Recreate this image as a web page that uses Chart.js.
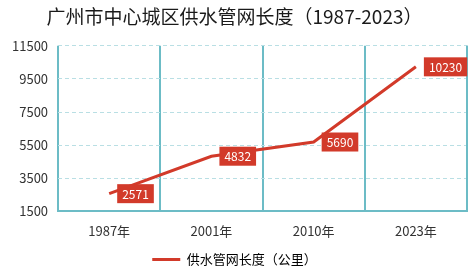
<!DOCTYPE html>
<html>
<head>
<meta charset="utf-8">
<script src="https://cdn.jsdelivr.net/npm/chart.js@4/dist/chart.umd.min.js"></script>
<style>
  html, body { margin: 0; padding: 0; background: #fff; }
  #wrap { width: 472px; height: 270px; }
</style>
</head>
<body>
<div id="wrap"><canvas id="pipeChart"></canvas></div>
<script>
var years = ["1987年", "2001年", "2010年", "2023年"];
var pipeLength = [2571, 4832, 5690, 10230];
var yTicks = [1500, 3500, 5500, 7500, 9500, 11500];

var FONT = "'Noto Sans CJK SC', 'Noto Sans', sans-serif";
var RED = "#d23a2a";
var TEAL = "#6cbcc6";

// red boxes with the value, placed just right of each point
var valueBoxes = {
  id: "valueBoxes",
  afterDatasetsDraw: function (chart) {
    var ctx = chart.ctx;
    var meta = chart.getDatasetMeta(0);
    ctx.save();
    ctx.font = "12px " + FONT;
    ctx.textBaseline = "middle";
    meta.data.forEach(function (pt, i) {
      var txt = String(pipeLength[i]);
      var w = ctx.measureText(txt).width + 10;
      var h = 19;
      var x = pt.x + 8;
      var y = pt.y - h / 2;
      ctx.fillStyle = RED;
      ctx.fillRect(x, y, w, h);
      ctx.fillStyle = "#fff";
      ctx.textAlign = "center";
      ctx.fillText(txt, x + w / 2, pt.y + 0.5);
    });
    ctx.restore();
  }
};

var ctx1 = document.getElementById("pipeChart").getContext("2d");
var myChart1 = new Chart(ctx1, {
  type: "line",
  data: {
    labels: years,
    datasets: [{
      label: "供水管网长度（公里）",
      data: pipeLength,
      borderColor: RED,
      backgroundColor: RED,
      borderWidth: 3,
      pointRadius: 0,
      tension: 0,
      fill: false
    }]
  },
  options: {
    responsive: true,
    maintainAspectRatio: false,
    animation: false,
    layout: { padding: { left: 2, right: 5, top: 0, bottom: -6 } },
    plugins: {
      title: {
        display: true,
        text: "广州市中心城区供水管网长度（1987-2023）",
        color: "#1a1a1a",
        font: { family: FONT, size: 19, weight: "normal" },
        padding: { top: 5, bottom: 18 }
      },
      legend: {
        position: "bottom",
        labels: {
          color: "#333",
          font: { family: FONT, size: 13 },
          boxWidth: 28,
          boxHeight: 3,
          padding: 2,
          generateLabels: function (chart) {
            return [{
              text: "供水管网长度（公里）",
              fillStyle: RED,
              strokeStyle: RED,
              lineWidth: 0,
              datasetIndex: 0
            }];
          }
        }
      },
      tooltip: { enabled: false }
    },
    scales: {
      x: {
        offset: true,
        grid: {
          offset: true,
          color: TEAL,
          lineWidth: 2,
          drawTicks: false
        },
        border: { color: TEAL, width: 2 },
        ticks: {
          color: "#333",
          padding: 12,
          font: { family: FONT, size: 13 }
        }
      },
      y: {
        min: 1500,
        max: 11500,
        afterBuildTicks: function (axis) {
          axis.ticks = yTicks.map(function (v) { return { value: v }; });
        },
        grid: {
          color: "#b9dfe4",
          lineWidth: 1,
          drawTicks: false
        },
        border: { display: false, dash: [4, 3] },
        ticks: {
          color: "#333",
          padding: 10,
          font: { family: FONT, size: 13 },
          callback: function (v) { return String(v); }
        }
      }
    }
  },
  plugins: [valueBoxes, {
    id: "rightEdge",
    beforeDatasetsDraw: function (chart) {
      var a = chart.chartArea;
      var c = chart.ctx;
      c.save();
      c.strokeStyle = TEAL;
      c.lineWidth = 2;
      c.beginPath();
      c.moveTo(a.right, a.top);
      c.lineTo(a.right, a.bottom);
      c.stroke();
      c.restore();
    }
  }]
});
</script>
</body>
</html>
